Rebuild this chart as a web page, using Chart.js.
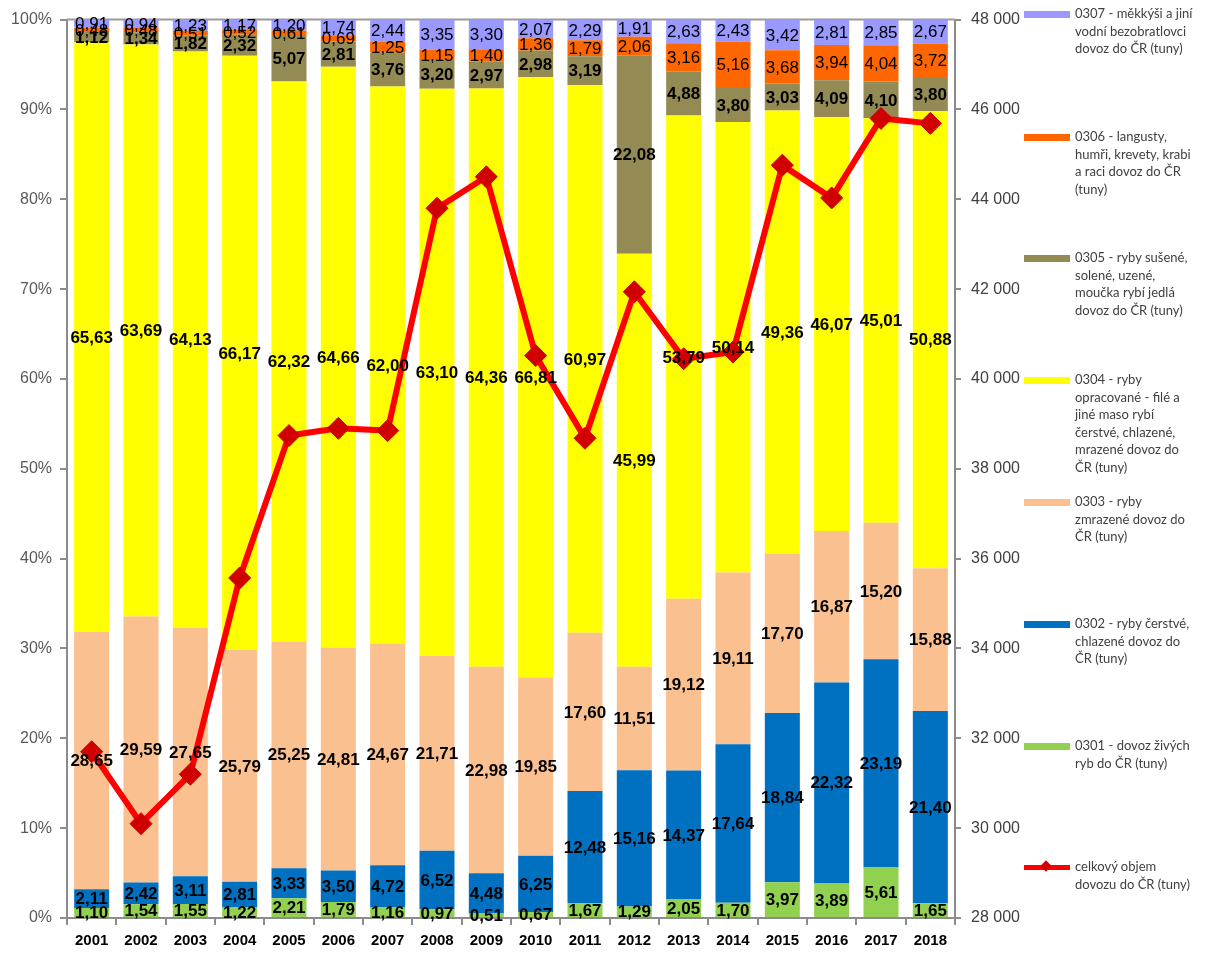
<!DOCTYPE html>
<html>
<head>
<meta charset="utf-8">
<script src="https://cdn.jsdelivr.net/npm/chart.js@4"></script>
<style>
    body { margin: 0; background: #fff; }
    #wrap { position: relative; width: 1207px; height: 956px; }
    #legend { position: absolute; left: 0; top: 0; }
    .item { position: absolute; left: 1024px; }
    .swatch { position: absolute; left: 0; width: 46px; height: 7px; }
    .text { position: absolute; left: 51px; width: 140px; font: 13px Lato, sans-serif; line-height: 17.5px; color: #404040; white-space: nowrap; }
</style>
</head>
<body>
<div id="wrap">
    <canvas id="chart" width="1207" height="956"></canvas>
    <div id="legend"></div>
</div>
<script>
// Years
const years = ['2001', '2002', '2003', '2004', '2005', '2006', '2007', '2008', '2009',
    '2010', '2011', '2012', '2013', '2014', '2015', '2016', '2017', '2018'];

// Share of each group in total import (%)
const live0301 = [1.10, 1.54, 1.55, 1.22, 2.21, 1.79, 1.16, 0.97, 0.51, 0.67, 1.67, 1.29, 2.05, 1.70, 3.97, 3.89, 5.61, 1.65];
const fresh0302 = [2.11, 2.42, 3.11, 2.81, 3.33, 3.50, 4.72, 6.52, 4.48, 6.25, 12.48, 15.16, 14.37, 17.64, 18.84, 22.32, 23.19, 21.40];
const frozen0303 = [28.65, 29.59, 27.65, 25.79, 25.25, 24.81, 24.67, 21.71, 22.98, 19.85, 17.60, 11.51, 19.12, 19.11, 17.70, 16.87, 15.20, 15.88];
const fillet0304 = [65.63, 63.69, 64.13, 66.17, 62.32, 64.66, 62.00, 63.10, 64.36, 66.81, 60.97, 45.99, 53.79, 50.14, 49.36, 46.07, 45.01, 50.88];
const dried0305 = [1.12, 1.34, 1.82, 2.32, 5.07, 2.81, 3.76, 3.20, 2.97, 2.98, 3.19, 22.08, 4.88, 3.80, 3.03, 4.09, 4.10, 3.80];
const crust0306 = [0.48, 0.48, 0.51, 0.52, 0.61, 0.69, 1.25, 1.15, 1.40, 1.36, 1.79, 2.06, 3.16, 5.16, 3.68, 3.94, 4.04, 3.72];
const mollusc0307 = [0.91, 0.94, 1.23, 1.17, 1.20, 1.74, 2.44, 3.35, 3.30, 2.07, 2.29, 1.91, 2.63, 2.43, 3.42, 2.81, 2.85, 2.67];

// Total import volume (tonnes), right axis
const totalTons = [31700, 30100, 31200, 35570, 38740, 38900, 38850, 43800, 44500, 40520, 38680, 41940, 40450, 40600, 44760, 44030, 45800, 45690];

// Legend texts, wrapped as in the original
const labels0301 = ['0301 - dovoz živých', 'ryb do ČR (tuny)'];
const labels0302 = ['0302 - ryby čerstvé,', 'chlazené dovoz do', 'ČR (tuny)'];
const labels0303 = ['0303 - ryby', 'zmrazené dovoz do', 'ČR (tuny)'];
const labels0304 = ['0304 - ryby', 'opracované - filé a', 'jiné maso rybí', 'čerstvé, chlazené,', 'mrazené dovoz do', 'ČR (tuny)'];
const labels0305 = ['0305 - ryby sušené,', 'solené, uzené,', 'moučka rybí jedlá', 'dovoz do ČR (tuny)'];
const labels0306 = ['0306 - langusty,', 'humři, krevety, krabi', 'a raci dovoz do ČR', '(tuny)'];
const labels0307 = ['0307 - měkkýši a jiní', 'vodní bezobratlovci', 'dovoz do ČR (tuny)'];
const labelsTotal = ['celkový objem', 'dovozu do ČR (tuny)'];

const fmt = v => v.toFixed(2).replace('.', ',');

function barSet(lines, data, color, bold) {
    return {
        type: 'bar',
        label: lines.join(' '),
        legendLines: lines,
        data: data,
        backgroundColor: color,
        boldLabels: bold,
        yAxisID: 'y',
        stack: 'share',
        order: 1,
        categoryPercentage: 1,
        barPercentage: 0.71
    };
}

// Value labels in the middle of every bar segment
const barLabels = {
    id: 'barLabels',
    afterDatasetsDraw(chart) {
        const ctx = chart.ctx;
        ctx.save();
        ctx.textAlign = 'center';
        ctx.textBaseline = 'middle';
        ctx.fillStyle = '#000';
        chart.data.datasets.forEach((ds, i) => {
            if (ds.type !== 'bar') return;
            ctx.font = (ds.boldLabels ? 'bold ' : '') + '17px "Liberation Sans", Arial, sans-serif';
            chart.getDatasetMeta(i).data.forEach((bar, j) => {
                ctx.fillText(fmt(ds.data[j]), bar.x, (bar.y + bar.base) / 2 + 1);
            });
        });
        ctx.restore();
    }
};

// Plot frame on top
const topFrame = {
    id: 'topFrame',
    beforeDatasetsDraw(chart) {
        const a = chart.chartArea, ctx = chart.ctx;
        ctx.save();
        ctx.strokeStyle = '#9a9a9a';
        ctx.lineWidth = 2;
        ctx.beginPath();
        ctx.moveTo(a.left, a.top);
        ctx.lineTo(a.right, a.top);
        ctx.stroke();
        ctx.restore();
    }
};

const datasets = [
    {
        type: 'line',
        label: labelsTotal.join(' '),
        legendLines: labelsTotal,
        data: totalTons,
        yAxisID: 'y1',
        order: 0,
        borderColor: '#ff0000',
        borderWidth: 6,
        pointStyle: 'rectRot',
        pointRadius: 11,
        pointBackgroundColor: '#d10000',
        pointBorderColor: '#d10000',
        pointBorderWidth: 1,
        tension: 0
    },
    barSet(labels0301, live0301, '#92d050', true),
    barSet(labels0302, fresh0302, '#0070c0', true),
    barSet(labels0303, frozen0303, '#fac090', true),
    barSet(labels0304, fillet0304, '#ffff00', true),
    barSet(labels0305, dried0305, '#948a54', true),
    barSet(labels0306, crust0306, '#ff6600', false),
    barSet(labels0307, mollusc0307, '#9999ff', false)
];

const axisGray = '#8c8c8c';

new Chart(document.getElementById('chart'), {
    data: { labels: years, datasets: datasets },
    options: {
        responsive: false,
        animation: false,
        layout: { padding: { left: 0, right: 182, top: 17, bottom: 0 } },
        plugins: {
            legend: { display: false },
            tooltip: { enabled: false }
        },
        scales: {
            x: {
                stacked: true,
                grid: { display: true, drawOnChartArea: false, drawTicks: true, tickLength: 7, color: axisGray, lineWidth: 2, offset: true },
                border: { display: true, color: axisGray, width: 2 },
                ticks: { color: '#000', font: { family: '"Liberation Sans", Arial, sans-serif', size: 15, weight: 'bold' }, padding: 7 },
                afterFit: axis => { axis.height = 38; }
            },
            y: {
                stacked: true,
                min: 0,
                max: 100,
                ticks: { stepSize: 10, callback: v => v + '%', color: '#595959', font: { family: '"Liberation Sans", Arial, sans-serif', size: 16 }, padding: 8 },
                grid: { display: true, drawOnChartArea: false, drawTicks: true, tickLength: 7, color: axisGray, lineWidth: 2 },
                border: { display: true, color: axisGray, width: 2 },
                afterFit: axis => { axis.width = 67; }
            },
            y1: {
                position: 'right',
                min: 28000,
                max: 48000,
                ticks: { stepSize: 2000, callback: v => String(v).replace(/(\d{2})(\d{3})$/, '$1 $2'), color: '#404040', font: { family: '"Liberation Sans", Arial, sans-serif', size: 16 }, padding: 10 },
                grid: { display: true, drawOnChartArea: false, drawTicks: true, tickLength: 6, color: axisGray, lineWidth: 2 },
                border: { display: true, color: axisGray, width: 2 },
                afterFit: axis => { axis.width = 70; }
            }
        }
    },
    plugins: [barLabels, topFrame]
});

// Legend at the right, one entry per series, in the original's order and positions
const legendOrder = [7, 6, 5, 4, 3, 2, 1, 0];
const legendTop = [14, 137, 258, 380, 502, 624, 746, 867];
const legendEl = document.getElementById('legend');
legendOrder.forEach((idx, k) => {
    const ds = datasets[idx];
    const item = document.createElement('div');
    item.className = 'item';
    item.style.top = legendTop[k] + 'px';
    let swatch;
    if (ds.type === 'line') {
        swatch = `<div class="swatch" style="top:-2px;height:5px;background:${ds.borderColor}"></div>
            <div style="position:absolute;left:18px;top:-5px;width:8px;height:8px;background:${ds.pointBackgroundColor};transform:rotate(45deg)"></div>`;
    } else {
        swatch = `<div class="swatch" style="top:-3px;background:${ds.backgroundColor}"></div>`;
    }
    item.innerHTML = swatch + `<div class="text" style="top:-9px">${ds.legendLines.join('<br>')}</div>`;
    legendEl.appendChild(item);
});
</script>
</body>
</html>
